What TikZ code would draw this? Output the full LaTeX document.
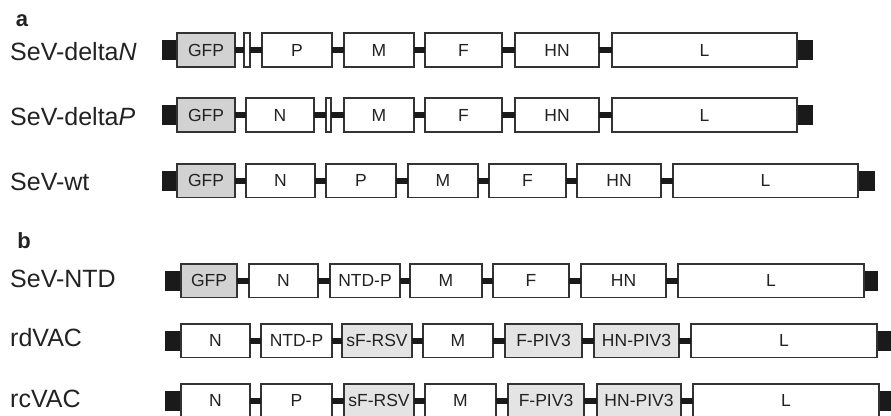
\documentclass[tikz,border=0pt]{standalone}
\usepackage{fontspec}
\setmainfont{Liberation Sans}
\definecolor{edge}{HTML}{333333}
\definecolor{gfp}{HTML}{D2D2D2}
\definecolor{het}{HTML}{E4E4E4}
\definecolor{blk}{HTML}{1A1A1A}
\definecolor{txt}{HTML}{222222}
\tikzset{
  gene/.style={draw=edge, line width=1.6pt, fill=white, rectangle, inner sep=0pt, outer sep=0pt,
    minimum height=33.6pt, font=\fontsize{17.5}{20}\selectfont, text=txt},
  gfpbox/.style={gene, fill=gfp},
  hetbox/.style={gene, fill=het},
  endblk/.style={fill=blk, draw=none, rectangle, inner sep=0pt, outer sep=0pt, minimum height=20pt},
  junc/.style={draw=blk, line width=6pt},
  rowlabel/.style={anchor=base west, font=\fontsize{25}{30}\selectfont, text=txt, inner sep=0pt},
  panel/.style={font=\bfseries\fontsize{22}{26}\selectfont, text=txt, inner sep=0pt}
}
% \gbox[style]{name}{x-left}{x-right}{y-centre}{text}
\newcommand\gbox[6][gene]{\node[#1, minimum width={(#4-#3-1.6)*1pt}] (#2) at ({(#3+#4)/2},#5) {#6};}
% \eblk{name}{x-left}{x-right}{y-centre}
\newcommand\eblk[4]{\node[endblk, minimum width={(#3-#2)*1pt}] (#1) at ({(#2+#3)/2},#4) {};}
\begin{document}
\begin{tikzpicture}[x=1pt,y=-1pt]
\useasboundingbox (0,0) rectangle (891,415);

% ---------- panel a ----------
\node[panel] (pa) at (22,21) {a};

% SeV-deltaN
\node[rowlabel] (lab1) at (10,60) {SeV-delta\textit{N}};
\eblk{lead1}{162}{176}{50}
\gbox[gfpbox]{gfp1}{176}{236}{50}{GFP}
\gbox{dn1}{243}{251}{50}{}
\gbox{p1}{261}{333}{50}{P}
\gbox{m1}{343}{415}{50}{M}
\gbox{f1}{424}{503}{50}{F}
\gbox{hn1}{514}{600}{50}{HN}
\gbox{l1}{611}{798}{50}{L}
\eblk{trail1}{798}{813}{50}
\foreach \a/\b in {gfp1/dn1, dn1/p1, p1/m1, m1/f1, f1/hn1, hn1/l1} \draw[junc] (\a) -- (\b);

% SeV-deltaP
\node[rowlabel] (lab2) at (10,125) {SeV-delta\textit{P}};
\eblk{lead2}{162}{176}{115}
\gbox[gfpbox]{gfp2}{176}{236}{115}{GFP}
\gbox{n2}{245}{315}{115}{N}
\gbox{dp2}{325}{332}{115}{}
\gbox{m2}{343}{415}{115}{M}
\gbox{f2}{424}{503}{115}{F}
\gbox{hn2}{514}{600}{115}{HN}
\gbox{l2}{611}{798}{115}{L}
\eblk{trail2}{798}{813}{115}
\foreach \a/\b in {gfp2/n2, n2/dp2, dp2/m2, m2/f2, f2/hn2, hn2/l2} \draw[junc] (\a) -- (\b);

% SeV-wt
\node[rowlabel] (lab3) at (10,190) {SeV-wt};
\eblk{lead3}{162}{176}{180.5}
\gbox[gfpbox]{gfp3}{176}{236}{180.5}{GFP}
\gbox{n3}{245}{316}{180.5}{N}
\gbox{p3}{325}{397}{180.5}{P}
\gbox{m3}{407}{479}{180.5}{M}
\gbox{f3}{488}{567}{180.5}{F}
\gbox{hn3}{576}{662}{180.5}{HN}
\gbox{l3}{672}{859}{180.5}{L}
\eblk{trail3}{859}{875}{180.5}
\foreach \a/\b in {gfp3/n3, n3/p3, p3/m3, m3/f3, f3/hn3, hn3/l3} \draw[junc] (\a) -- (\b);

% ---------- panel b ----------
\node[panel] (pb) at (24,241) {b};

% SeV-NTD
\node[rowlabel] (lab4) at (10,287) {SeV-NTD};
\eblk{lead4}{165}{180}{280.5}
\gbox[gfpbox]{gfp4}{180}{238}{280.5}{GFP}
\gbox{n4}{248}{319}{280.5}{N}
\gbox{ntd4}{329}{401}{280.5}{NTD-P}
\gbox{m4}{409}{483}{280.5}{M}
\gbox{f4}{492}{570}{280.5}{F}
\gbox{hn4}{580}{667}{280.5}{HN}
\gbox{l4}{677}{865}{280.5}{L}
\eblk{trail4}{865}{878}{280.5}
\foreach \a/\b in {gfp4/n4, n4/ntd4, ntd4/m4, m4/f4, f4/hn4, hn4/l4} \draw[junc] (\a) -- (\b);

% rdVAC
\node[rowlabel] (lab5) at (10,346) {rdVAC};
\eblk{lead5}{165}{180}{340.5}
\gbox{n5}{180}{251}{340.5}{N}
\gbox{ntd5}{260}{333}{340.5}{NTD-P}
\gbox[hetbox]{sf5}{341}{413}{340.5}{sF-RSV}
\gbox{m5}{422}{494}{340.5}{M}
\gbox[hetbox]{fp5}{504}{583}{340.5}{F-PIV3}
\gbox[hetbox]{hp5}{593}{680}{340.5}{HN-PIV3}
\gbox{l5}{690}{878}{340.5}{L}
\eblk{trail5}{878}{891}{340.5}
\foreach \a/\b in {n5/ntd5, ntd5/sf5, sf5/m5, m5/fp5, fp5/hp5, hp5/l5} \draw[junc] (\a) -- (\b);

% rcVAC
\node[rowlabel] (lab6) at (10,407) {rcVAC};
\eblk{lead6}{165}{180}{400.5}
\gbox{n6}{180}{251}{400.5}{N}
\gbox{p6}{260}{333}{400.5}{P}
\gbox[hetbox]{sf6}{343}{415}{400.5}{sF-RSV}
\gbox{m6}{424}{497}{400.5}{M}
\gbox[hetbox]{fp6}{507}{585}{400.5}{F-PIV3}
\gbox[hetbox]{hp6}{596}{682}{400.5}{HN-PIV3}
\gbox{l6}{692}{880}{400.5}{L}
\eblk{trail6}{880}{893}{400.5}
\foreach \a/\b in {n6/p6, p6/sf6, sf6/m6, m6/fp6, fp6/hp6, hp6/l6} \draw[junc] (\a) -- (\b);
\end{tikzpicture}
\end{document}
